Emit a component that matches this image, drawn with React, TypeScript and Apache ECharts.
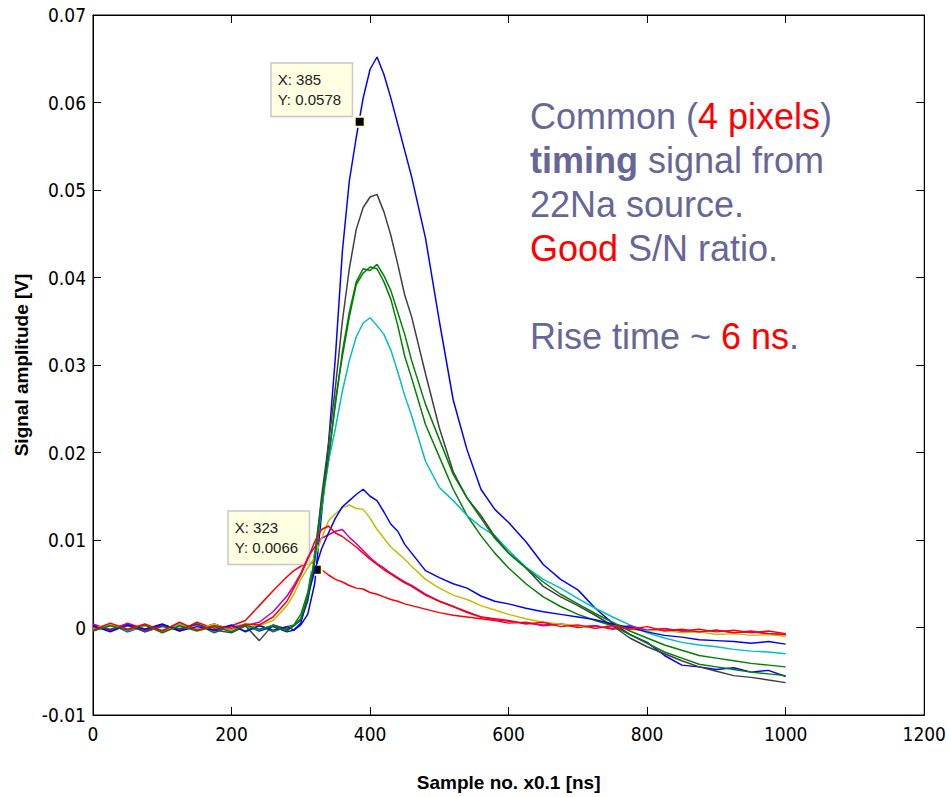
import React, { useEffect, useRef } from "react";
import * as echarts from "echarts";

// sample positions (x0.1 ns)
const xs = [0,25,50,75,100,125,150,175,200,220,240,260,280,290,300,310,320,330,340,350,360,370,380,390,400,410,420,430,440,450,460,480,500,520,540,560,580,600,625,650,675,700,725,750,775,800,825,850,875,900,925,950,975,1000];

// signal amplitude [V] per pulse
const blue1 = [-0.0003,0.0004,-0.0005,0.0002,-0.0004,0.0003,-0.0002,0.0004,-0.0003,0.0002,-0.0004,0.0001,-0.0005,
  -0.0003,0.0003,0.0015,0.005,0.013,0.021,0.031,0.043,0.051,0.056,0.0605,0.0638,0.0652,0.0632,0.0605,0.0575,0.0545,0.0515,
  0.0445,0.035,0.026,0.0203,0.0158,0.0135,0.012,
  0.0098,0.0072,0.0055,0.0043,0.0022,0.0005,-0.0008,-0.0017,-0.0032,-0.0043,-0.0045,-0.0048,-0.0046,-0.0051,-0.0049,-0.0056];
const green1 = [0.0002,-0.0004,0.0003,-0.0005,0.0001,-0.0003,0.0004,-0.0006,0.0002,-0.0004,0.0003,-0.0005,0.0001,
  0.0003,0.0015,0.004,0.0085,0.0145,0.019,0.026,0.031,0.0355,0.0392,0.0405,0.0412,0.041,0.0395,0.0375,0.0345,0.031,0.0285,
  0.0232,0.0195,0.0158,0.0128,0.0105,0.0085,0.0068,
  0.005,0.0035,0.0024,0.0015,0.0008,0.0002,-0.0008,-0.0018,-0.0028,-0.0035,-0.0042,-0.0045,-0.0048,-0.0051,-0.0053,-0.0055];
const red1 = [0.0004,-0.0003,0.0005,-0.0002,0.0003,-0.0004,0.0006,-0.0001,0.0002,0.0008,0.0025,0.0042,0.0058,
  0.0065,0.007,0.0074,0.0072,0.0066,0.006,0.0055,0.0052,0.0048,0.0045,0.0044,0.004,0.0038,0.0035,0.0032,0.003,0.0027,0.0025,
  0.0021,0.0017,0.0014,0.0012,0.001,0.0008,0.0005,
  0.0006,0.0002,0.0004,0.0,0.0002,-0.0002,0.0001,-0.0003,-0.0001,-0.0004,-0.0002,-0.0005,-0.0003,-0.0006,-0.0004,-0.0007];
const cyan1 = [-0.0002,0.0003,-0.0004,0.0002,-0.0003,0.0004,-0.0002,0.0001,-0.0004,0.0002,-0.0003,0.0003,-0.0002,
  0.0002,0.001,0.0035,0.008,0.0135,0.019,0.0228,0.027,0.0305,0.0332,0.0348,0.0354,0.0345,0.0335,0.0317,0.0292,0.0265,0.0242,
  0.019,0.016,0.0145,0.0128,0.0115,0.0105,0.0088,
  0.0069,0.0055,0.0045,0.0033,0.0022,0.0012,0.0003,-0.0006,-0.0012,-0.0017,-0.002,-0.0022,-0.0025,-0.0027,-0.0028,-0.003];
const magenta1 = [0.0003,-0.0002,0.0004,-0.0005,0.0002,-0.0001,0.0003,-0.0004,0.0001,0.0002,0.0006,0.0018,0.0036,
  0.0048,0.0062,0.008,0.0092,0.0102,0.0106,0.011,0.0112,0.0103,0.0096,0.0088,0.008,0.0073,0.0068,0.0062,0.0057,0.0052,0.0048,
  0.0038,0.003,0.0024,0.0017,0.0012,0.0009,0.0007,
  0.0005,0.0003,0.0004,0.0001,0.0002,-0.0001,0.0002,-0.0003,-0.0002,-0.0004,-0.0005,-0.0003,-0.0006,-0.0005,-0.0007,-0.0008];
const yellow1 = [-0.0001,0.0004,-0.0003,0.0002,-0.0005,0.0003,-0.0002,0.0004,-0.0003,0.0001,0.0002,0.0008,0.0025,
  0.0038,0.0055,0.0068,0.008,0.0102,0.0122,0.013,0.0137,0.014,0.0136,0.0135,0.0125,0.0112,0.0102,0.0092,0.0085,0.0078,0.007,
  0.0055,0.0045,0.0037,0.0032,0.0025,0.002,0.0015,
  0.001,0.0006,0.0004,0.0002,-0.0001,0.0003,-0.0002,-0.0004,-0.0003,-0.0006,-0.0005,-0.0008,-0.0007,-0.0009,-0.0008,-0.001];
const gray1 = [0.0001,-0.0003,0.0002,-0.0004,0.0003,-0.0002,0.0004,-0.0003,-0.0006,0.0002,-0.0015,0.0003,-0.0002,
  0.0002,0.0008,0.003,0.0075,0.015,0.021,0.0275,0.035,0.041,0.0455,0.048,0.0492,0.0495,0.0475,0.0448,0.0415,0.038,0.0355,
  0.029,0.0228,0.0178,0.0148,0.0128,0.0104,0.0085,
  0.0068,0.0047,0.0035,0.0025,0.0014,0.0002,-0.0012,-0.0022,-0.003,-0.0038,-0.0045,-0.005,-0.0055,-0.0057,-0.006,-0.0063];
const blue2 = [0.0002,-0.0005,0.0003,-0.0002,0.0004,-0.0004,0.0001,-0.0003,0.0003,-0.0005,0.0002,-0.0003,0.0001,
  -0.0003,0.0005,0.0035,0.0065,0.009,0.0108,0.0125,0.0138,0.0145,0.0152,0.0158,0.015,0.0145,0.0132,0.0118,0.011,0.0095,0.0085,
  0.0065,0.0057,0.005,0.0045,0.0036,0.003,0.0027,
  0.0022,0.0018,0.0015,0.0012,0.0009,0.0004,0.0,-0.0005,-0.0009,-0.0011,-0.0014,-0.0015,-0.0016,-0.0018,-0.0016,-0.0019];
const green2 = [-0.0004,0.0002,-0.0003,0.0003,-0.0006,0.0002,-0.0004,0.0001,-0.0005,0.0003,-0.0002,0.0002,-0.0004,
  0.0002,0.001,0.0035,0.0078,0.014,0.0195,0.0255,0.0315,0.036,0.0395,0.041,0.0408,0.0415,0.0402,0.0385,0.036,0.0335,0.0305,
  0.0255,0.0215,0.0175,0.0148,0.0125,0.0102,0.0085,
  0.0068,0.0052,0.0038,0.0027,0.0016,0.0006,-0.0004,-0.0012,-0.002,-0.0026,-0.0032,-0.0035,-0.0038,-0.0041,-0.0043,-0.0045];
const red2 = [-0.0003,0.0005,-0.0002,0.0004,-0.0004,0.0006,-0.0003,0.0002,-0.0001,0.0004,0.0003,0.0012,0.003,
  0.0045,0.006,0.0078,0.0098,0.0112,0.0116,0.0108,0.0104,0.0098,0.0092,0.0085,0.0078,0.0072,0.0066,0.0061,0.0056,0.0051,0.0047,
  0.0037,0.003,0.0024,0.0018,0.0012,0.001,0.0008,
  0.0004,0.0006,0.0001,0.0003,-0.0001,0.0002,-0.0002,0.0001,-0.0004,-0.0002,-0.0005,-0.0003,-0.0006,-0.0004,-0.0007,-0.0008];

const seriesNames = ["p1", "p2", "p3", "p4", "p5", "p6", "p7", "p8", "p9", "p10"];
const seriesValues = [blue1, green1, red1, cyan1, magenta1, yellow1, gray1, blue2, green2, red2];
const seriesColors = ["#0000ff", "#008000", "#ff0000", "#00bfbf", "#bf00bf", "#bfbf00", "#404040", "#0000ff", "#008000", "#ff0000"];

// data tips
const tipPoints = [
  [385, 0.0578],
  [323, 0.0066],
];

const xTicks = { min: 0, max: 1200, interval: 200 };
const yTicks = { min: -0.01, max: 0.07, interval: 0.01 };

const tickFont = "'Liberation Sans Narrow', 'DejaVu Sans Condensed', 'Liberation Sans', sans-serif";

export default function App() {
  const ref = useRef<HTMLDivElement>(null);
  useEffect(() => {
    if (!ref.current) return;
    const chart = echarts.init(ref.current, undefined, { renderer: "svg" });
    const series: any[] = seriesValues.map((vals, i) => ({
      name: seriesNames[i],
      type: "line",
      xAxisIndex: 0,
      yAxisIndex: 0,
      data: xs.map((x, j) => [x, vals[j]]),
      showSymbol: false,
      symbol: "none",
      lineStyle: { color: seriesColors[i], width: 1.5 },
      itemStyle: { color: seriesColors[i] },
      z: 2 + i,
    }));
    series.push({
      name: "tips",
      type: "line",
      data: [],
      z: 30,
      markPoint: {
        symbol: "rect",
        symbolSize: 10,
        itemStyle: { color: "#000", borderColor: "#ffffcc", borderWidth: 2 },
        label: {
          show: true,
          position: [-82, -52],
          align: "left",
          verticalAlign: "top",
          formatter: (p: any) => `X: ${p.data.coord[0]}\nY: ${p.data.coord[1]}`,
          backgroundColor: "#ffffe1",
          borderColor: "#c8c8c8",
          borderWidth: 1.5,
          padding: [6, 6, 6, 6],
          width: 68,
          fontSize: 15,
          lineHeight: 20,
          color: "#222",
          fontFamily: "'Liberation Sans', Arial, sans-serif",
        },
        data: tipPoints.map((c) => ({ coord: c })),
      },
    });
    const yLabel = (v: number) => {
      const r = Math.round(v * 100) / 100;
      return r === 0 ? "0" : String(r);
    };
    const xLabel = (v: number) => String(Math.round(v));
    chart.setOption({
      animation: false,
      backgroundColor: "#fff",
      grid: { left: 93, right: 15, top: 15, bottom: 72, show: true, borderColor: "#000", borderWidth: 1 },
      xAxis: [
        {
          type: "value",
          ...xTicks,
          position: "bottom",
          name: "Sample no. x0.1 [ns]",
          nameLocation: "middle",
          nameGap: 58,
          nameTextStyle: { fontSize: 19, fontWeight: "bold", color: "#000", fontFamily: "'Liberation Sans', Arial, sans-serif" },
          axisLine: { show: true, onZero: false, lineStyle: { color: "#000", width: 1 } },
          axisTick: { show: true, inside: true, length: 8, lineStyle: { color: "#000" } },
          axisLabel: { color: "#000", fontSize: 19, margin: 9, fontFamily: tickFont, formatter: xLabel },
          splitLine: { show: false },
        },
        {
          type: "value",
          ...xTicks,
          position: "top",
          axisLine: { show: true, onZero: false, lineStyle: { color: "#000" } },
          axisTick: { show: true, inside: true, length: 8, lineStyle: { color: "#000" } },
          axisLabel: { show: false },
          splitLine: { show: false },
        },
      ],
      yAxis: [
        {
          type: "value",
          ...yTicks,
          position: "left",
          name: "Signal amplitude [V]",
          nameLocation: "middle",
          nameGap: 50,
          nameTextStyle: { fontSize: 19, fontWeight: "bold", color: "#000", fontFamily: "'Liberation Sans', Arial, sans-serif" },
          axisLine: { show: true, onZero: false, lineStyle: { color: "#000", width: 1 } },
          axisTick: { show: true, inside: true, length: 8, lineStyle: { color: "#000" } },
          axisLabel: { color: "#000", fontSize: 19, margin: 7, fontFamily: tickFont, formatter: yLabel },
          splitLine: { show: false },
        },
        {
          type: "value",
          ...yTicks,
          position: "right",
          axisLine: { show: true, onZero: false, lineStyle: { color: "#000" } },
          axisTick: { show: true, inside: true, length: 8, lineStyle: { color: "#000" } },
          axisLabel: { show: false },
          splitLine: { show: false },
        },
      ],
      graphic: [
        {
          type: "text",
          left: 530,
          top: 98,
          z: 40,
          style: {
            text:
              "{a|Common (}{r|4 pixels}{a|)}\n" +
              "{b|timing}{a| signal from}\n" +
              "{a|22Na source.}\n" +
              "{r|Good}{a| S/N ratio.}\n" +
              "{a| }\n" +
              "{a|Rise time ~ }{r|6 ns}{a|.}",
            font: "36px 'Liberation Sans', Arial, sans-serif",
            rich: {
              a: { fontSize: 36, lineHeight: 44, fill: "#666699", fontFamily: "'Liberation Sans', Arial, sans-serif" },
              r: { fontSize: 36, lineHeight: 44, fill: "#ff0000", fontFamily: "'Liberation Sans', Arial, sans-serif" },
              b: { fontSize: 36, lineHeight: 44, fill: "#666699", fontWeight: "bold", fontFamily: "'Liberation Sans', Arial, sans-serif" },
            },
          },
        },
      ],
      series,
    });
    return () => chart.dispose();
  }, []);
  return <div ref={ref} style={{ position: "fixed", left: 0, top: 0, width: 949, height: 797 }} />;
}
